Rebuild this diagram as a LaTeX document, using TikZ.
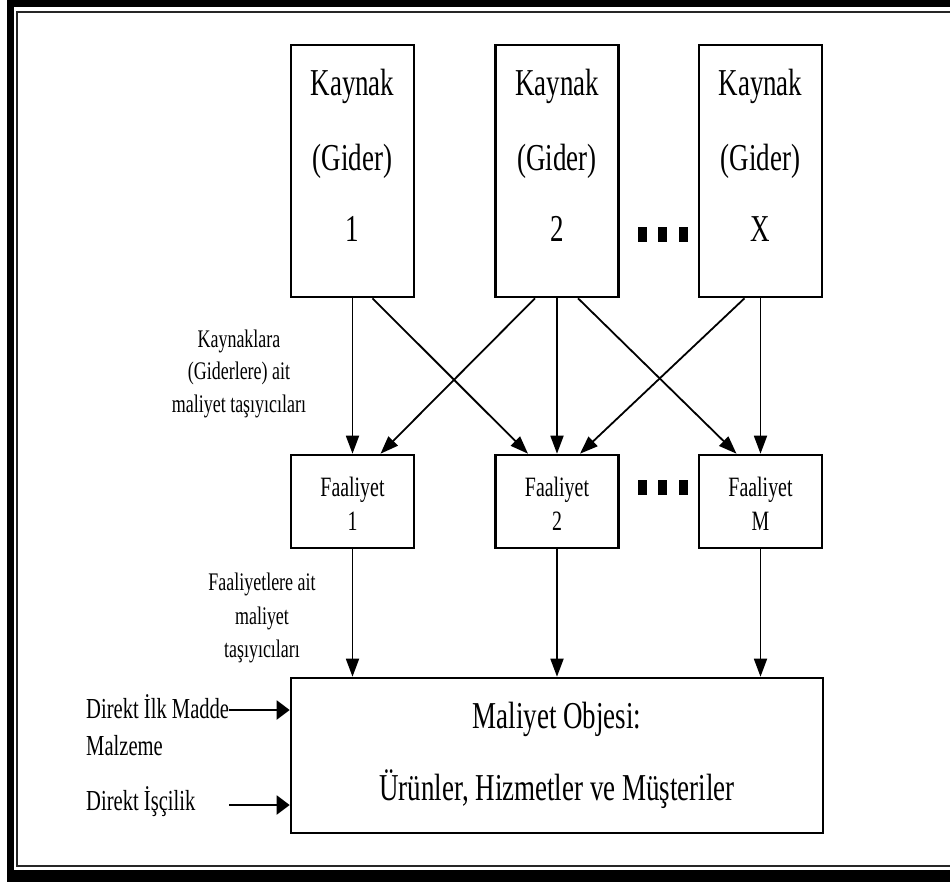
\documentclass[tikz,border=0pt]{standalone}
\usepackage{fontspec}
\setmainfont{Liberation Serif}[FakeStretch=0.71]
\usetikzlibrary{arrows.meta}

\begin{document}
\begin{tikzpicture}[x=1pt,y=-1pt,
  box/.style={draw=black, line width=2.6pt, inner sep=0pt},
  flow/.style={line width=1.8pt, -{Triangle[length=18pt,width=13pt]}},
  side/.style={line width=2pt, -{Triangle[length=13pt,width=19pt]}},
  big/.style={font=\fontsize{38}{38}\selectfont, inner sep=0pt, anchor=base},
  mid/.style={font=\fontsize{28}{28}\selectfont, inner sep=0pt, anchor=base},
  small/.style={font=\fontsize{25.3}{25.3}\selectfont, inner sep=0pt, anchor=base},
  dirtext/.style={font=\fontsize{29}{29}\selectfont, inner sep=0pt, anchor=base west},
  dotmark/.style={fill=black, minimum width=9pt, minimum height=15pt, inner sep=0pt}
]
\useasboundingbox (0,0) rectangle (950,884);

% page frame: heavy outer rule and thin inner rule
\fill[black] (7,0) rectangle (950,7);
\fill[black] (7,0) rectangle (14,882);
\fill[black] (7,870) rectangle (950,882);
\draw[line width=2pt, black!85] (955,12) -- (16.5,12) -- (16.5,865.5) -- (955,865.5);

% resources
\node[box, minimum width=123pt, minimum height=252pt] (k1) at (352.5,171) {};
\node[box, minimum width=123pt, minimum height=252pt] (k2) at (557,171) {};
\node[box, minimum width=123pt, minimum height=252pt] (kx) at (760.5,171) {};
\foreach \b/\n in {k1/1, k2/2, kx/X} {
  \node[big] (\b a) at ([yshift=-52pt]\b.north) {Kaynak};
  \node[big] (\b b) at ([yshift=-127pt]\b.north) {(Gider)};
  \node[big] (\b c) at ([yshift=-198pt]\b.north) {\n};
}

% activities
\node[box, minimum width=123pt, minimum height=93pt] (f1) at (352.5,501.5) {};
\node[box, minimum width=123pt, minimum height=93pt] (f2) at (557,501.5) {};
\node[box, minimum width=123pt, minimum height=93pt] (fm) at (760.5,501.5) {};
\foreach \b/\n in {f1/1, f2/2, fm/M} {
  \node[mid] (\b a) at ([yshift=-43pt]\b.north) {Faaliyet};
  \node[mid] (\b b) at ([yshift=-77pt]\b.north) {\n};
}

% cost object
\node[box, minimum width=532pt, minimum height=155pt] (m) at (557,755.5) {};
\node[big] (ma) at ([yshift=-52pt]m.north) {Maliyet Objesi:};
\node[big] (mb) at ([yshift=-124pt]m.north) {Ürünler, Hizmetler ve Müşteriler};

% ellipsis marks
\foreach \x [count=\i] in {642.5,662.5,683.5} {
  \node[dotmark] (ea\i) at (\x,234.5) {};
  \node[dotmark] (eb\i) at (\x,487) {};
}

% resource drivers
\draw[flow] (k1.south) -- (f1.north);
\draw[flow] ([xshift=20pt]k1.south) -- ([xshift=-29pt]f2.north);
\draw[flow] ([xshift=-22pt]k2.south) -- ([xshift=28pt]f1.north);
\draw[flow] (k2.south) -- (f2.north);
\draw[flow] ([xshift=21pt]k2.south) -- ([xshift=-24pt]fm.north);
\draw[flow] ([xshift=-16pt]kx.south) -- ([xshift=23pt]f2.north);
\draw[flow] (kx.south) -- (fm.north);

% activity drivers
\draw[flow] (f1.south) -- (f1.south |- m.north);
\draw[flow] (f2.south) -- (f2.south |- m.north);
\draw[flow] (fm.south) -- (fm.south |- m.north);

% driver labels
\node[small] (la) at (239,347) {Kaynaklara};
\node[small] (lb) at (239,379.5) {(Giderlere) ait};
\node[small] (lc) at (239,412) {maliyet taşıyıcıları};
\node[small] (ld) at (262,590) {Faaliyetlere ait};
\node[small] (le) at (262,624) {maliyet};
\node[small] (lf) at (262,657) {taşıyıcıları};

% direct costs
\node[dirtext] (da) at (86,718) {Direkt İlk Madde};
\node[dirtext] (db) at (86,755) {Malzeme};
\node[dirtext] (dc) at (86,810) {Direkt İşçilik};
\coordinate (d1) at (229,710);
\coordinate (d2) at (229,805);
\draw[side] (d1) -- (d1 -| m.west);
\draw[side] (d2) -- (d2 -| m.west);
\end{tikzpicture}
\end{document}
